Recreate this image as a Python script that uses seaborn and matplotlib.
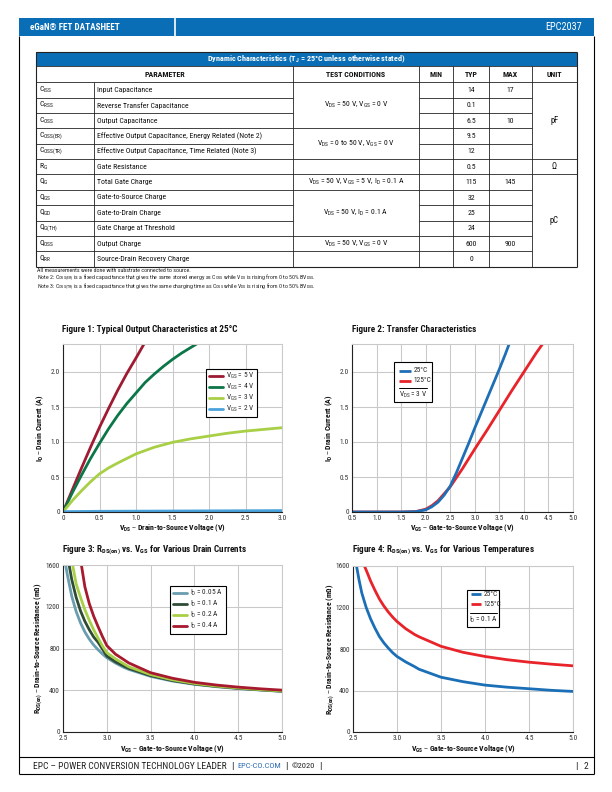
import matplotlib
matplotlib.use("Agg")
import numpy as np
import pandas as pd
import seaborn as sns
import matplotlib.pyplot as plt
from matplotlib import font_manager as fm
from matplotlib.patches import Rectangle
from matplotlib.lines import Line2D

# ---------------- table data ----------------
tbl_symbols = ["C$_{ISS}$", "C$_{RSS}$", "C$_{OSS}$", "C$_{OSS(ER)}$", "C$_{OSS(TR)}$", "R$_{G}$",
               "Q$_{G}$", "Q$_{GS}$", "Q$_{GD}$", "Q$_{G(TH)}$", "Q$_{OSS}$", "Q$_{RR}$"]
tbl_params = ["Input Capacitance", "Reverse Transfer Capacitance", "Output Capacitance",
              "Effective Output Capacitance, Energy Related (Note 2)",
              "Effective Output Capacitance, Time Related (Note 3)", "Gate Resistance",
              "Total Gate Charge", "Gate-to-Source Charge", "Gate-to-Drain Charge",
              "Gate Charge at Threshold", "Output Charge", "Source-Drain Recovery Charge"]
tbl_typ = ["14", "0.1", "6.5", "9.5", "12", "0.5", "115", "32", "25", "24", "600", "0"]
tbl_max = ["17", "", "10", "", "", "", "145", "", "", "", "900", ""]
tbl_cond_groups = [(0, 3, "V$_{DS}$ = 50 V, V$_{GS}$ = 0 V"),
                   (3, 5, "V$_{DS}$ = 0 to 50 V, V$_{GS}$ = 0 V"),
                   (5, 6, ""),
                   (6, 7, "V$_{DS}$ = 50 V, V$_{GS}$ = 5 V, I$_{D}$ = 0.1 A"),
                   (7, 10, "V$_{DS}$ = 50 V, I$_{D}$ = 0.1 A"),
                   (10, 11, "V$_{DS}$ = 50 V, V$_{GS}$ = 0 V"),
                   (11, 12, "")]
tbl_unit_groups = [(0, 5, "pF"), (5, 6, "Ω"), (6, 12, "pC")]
tbl_headers = ["PARAMETER", "TEST CONDITIONS", "MIN", "TYP", "MAX", "UNIT"]

# ---------------- Figure 1 data ----------------
f1_vds_5 = [0, 0.125, 0.25, 0.375, 0.5, 0.625, 0.75, 0.875, 1.0, 1.11]
f1_id_5 = [0, 0.31, 0.62, 0.92, 1.21, 1.48, 1.74, 1.98, 2.2, 2.4]
f1_vds_4 = [0, 0.125, 0.25, 0.375, 0.5, 0.625, 0.75, 0.875, 1.0, 1.125, 1.25, 1.375, 1.5, 1.625,
            1.75, 1.83]
f1_id_4 = [0, 0.27, 0.52, 0.76, 0.98, 1.19, 1.38, 1.55, 1.70, 1.85, 1.97, 2.08, 2.18, 2.27,
           2.35, 2.4]
f1_vds_3 = [0, 0.125, 0.25, 0.375, 0.5, 0.625, 0.75, 1.0, 1.25, 1.5, 1.75, 2.0, 2.25, 2.5, 2.75, 3.0]
f1_id_3 = [0, 0.16, 0.30, 0.43, 0.545, 0.63, 0.70, 0.83, 0.925, 0.995, 1.045, 1.085, 1.125, 1.156, 1.18, 1.204]
f1_vds_2 = [0, 0.5, 1.0, 1.5, 2.0, 2.5, 3.0]
f1_id_2 = [0.005, 0.01, 0.012, 0.014, 0.016, 0.018, 0.02]

# ---------------- Figure 2 data ----------------
f2_vgs_25 = [0.5, 1.0, 1.5, 1.8, 2.0, 2.125, 2.25, 2.375, 2.5, 2.625, 2.75, 2.875, 3.0,
             3.125, 3.25, 3.375, 3.5, 3.625, 3.7]
f2_id_25 = [0.0, 0.0, 0.0, 0.005, 0.03, 0.075, 0.14, 0.24, 0.37, 0.56, 0.77, 0.98, 1.2,
            1.41, 1.62, 1.83, 2.04, 2.26, 2.4]
f2_vgs_125 = [0.5, 1.0, 1.5, 1.8, 2.0, 2.125, 2.25, 2.375, 2.5, 2.625, 2.75, 2.875, 3.0,
              3.25, 3.5, 3.75, 4.0, 4.25, 4.38]
f2_id_125 = [0.0, 0.0, 0.0, 0.006, 0.04, 0.09, 0.16, 0.26, 0.36, 0.49, 0.62, 0.76, 0.9,
             1.17, 1.45, 1.73, 2.0, 2.27, 2.4]

# ---------------- Figure 3 data ----------------
f3_vgs_005 = [2.53, 2.55, 2.6, 2.65, 2.7, 2.75, 2.8, 2.85, 2.9, 2.95, 3.0, 3.1, 3.2, 3.25, 3.5, 3.75,
              4.0, 4.25, 4.5, 4.75, 5.0]
f3_r_005 = [1600, 1505, 1300, 1155, 1045, 958, 890, 834, 788, 748, 712, 660, 617, 600, 533, 488,
            457, 434, 416, 402, 389]
f3_vgs_01 = [2.57, 2.6, 2.65, 2.7, 2.75, 2.8, 2.85, 2.9, 2.95, 3.0, 3.1, 3.2, 3.25, 3.5, 3.75,
             4.0, 4.25, 4.5, 4.75, 5.0]
f3_r_01 = [1600, 1460, 1290, 1160, 1060, 980, 910, 860, 795, 728, 672, 630, 610, 540, 493,
           460, 437, 419, 404, 391]
f3_vgs_02 = [2.61, 2.65, 2.7, 2.75, 2.8, 2.85, 2.9, 2.95, 3.0, 3.1, 3.2, 3.25, 3.5, 3.75,
             4.0, 4.25, 4.5, 4.75, 5.0]
f3_r_02 = [1600, 1420, 1290, 1170, 1070, 980, 900, 825, 760, 700, 650, 625, 550, 500,
           465, 440, 422, 406, 393]
f3_vgs_04 = [2.71, 2.75, 2.8, 2.85, 2.9, 2.95, 3.0, 3.1, 3.2, 3.25, 3.5, 3.75, 4.0, 4.25, 4.5, 4.75, 5.0]
f3_r_04 = [1600, 1390, 1230, 1110, 1010, 915, 828, 745, 690, 662, 568, 515, 476, 450, 430, 414, 401]

# ---------------- Figure 4 data ----------------
f4_vgs_25 = [2.54, 2.57, 2.6, 2.65, 2.7, 2.75, 2.8, 2.85, 2.9, 2.95, 3.0, 3.1, 3.2, 3.25, 3.5, 3.75,
             4.0, 4.25, 4.5, 4.75, 5.0]
f4_r_25 = [1600, 1460, 1340, 1200, 1090, 1000, 920, 860, 810, 765, 728, 675, 630, 605, 528, 485,
           452, 432, 417, 402, 391]
f4_vgs_125 = [2.63, 2.66, 2.7, 2.75, 2.8, 2.85, 2.9, 2.95, 3.0, 3.1, 3.2, 3.25, 3.5, 3.75,
              4.0, 4.25, 4.5, 4.75, 5.0]
f4_r_125 = [1600, 1540, 1455, 1365, 1282, 1215, 1158, 1108, 1065, 995, 940, 918, 826, 768,
            728, 697, 673, 654, 638]

# ---------------- fonts ----------------
names = {f.name for f in fm.fontManager.ttflist}
FONT, STRETCH, S = "Liberation Sans", "normal", 0.84
for cand in ["Liberation Sans Narrow", "Roboto Condensed", "Open Sans Condensed", "Noto Sans Condensed"]:
    if cand in names:
        FONT, S = cand, 1.0
        break
else:
    if any(f.name == "DejaVu Sans" and f.stretch == "condensed" for f in fm.fontManager.ttflist):
        FONT, STRETCH, S = "DejaVu Sans", "condensed", 0.9

sns.set_style("white")
plt.rcParams["font.family"] = [FONT, "DejaVu Sans"]
plt.rcParams["font.stretch"] = STRETCH
plt.rcParams["mathtext.default"] = "regular"

W, H = 612, 792
fig = plt.figure(figsize=(W / 100, H / 100), dpi=100)
bg = fig.add_axes([0, 0, 1, 1], zorder=0)
bg.set_xlim(0, W)
bg.set_ylim(H, 0)
bg.axis("off")
renderer = fig.canvas.get_renderer()

BLUE = "#0A6EB6"


def T(x, y, s, size, **kw):
    kw.setdefault("va", "center")
    return bg.text(x, y, s, fontsize=size * S, **kw)


def L(x0, x1, y0, y1, lw=0.6, color="#222222"):
    bg.plot([x0, x1], [y0, y1], color=color, lw=lw, solid_capstyle="butt")


def seq(x, y, pieces):
    for s, color, gap, size in pieces:
        t = T(x, y, s, size, color=color)
        x = t.get_window_extent(renderer=renderer).x1 + gap


# ---------------- header / page frame / footer ----------------
bg.add_patch(Rectangle((19, 18), 575, 17.5, color=BLUE, lw=0))
L(175, 175, 18, 35.5, lw=1.2, color="white")
T(30, 27, "eGaN® FET DATASHEET", 6.6, color="white", fontweight="bold")
T(582, 27, "EPC2037", 7.4, color="white", ha="right")
L(19, 19, 35.5, 774, lw=0.8, color="black")
L(594, 594, 35.5, 774, lw=0.8, color="black")
L(19, 594, 757, 757, lw=0.8, color="black")
L(19, 594, 774, 774, lw=0.8, color="black")
fy = 766.5
seq(33, fy, [("EPC – POWER CONVERSION TECHNOLOGY LEADER", "#222222", 4, 6.8),
             ("|", "#222222", 4, 6.8), ("EPC-CO.COM", "#2E6DB4", 4, 6.0), ("|", "#222222", 4, 6.8),
             ("©2020", "#222222", 4, 6.0), ("|", "#222222", 4, 6.8)])
T(576, fy, "|", 6.8, color="#222222", ha="center")
T(586, fy, "2", 6.8, color="#222222", ha="center")

# ---------------- table ----------------
cols = [36, 94, 293, 419, 453, 489, 532, 577]
t_top, t_hdr, t_row0, rh, nrows = 52, 66, 82.3, 15.36, 12
t_bot = t_row0 + rh * nrows
bg.add_patch(Rectangle((cols[0], t_top), cols[-1] - cols[0], t_hdr - t_top, color=BLUE, lw=0))
T(306, 59.3, "Dynamic Characteristics (T$_{J}$ = 25°C unless otherwise stated)", 5.9,
  color="white", fontweight="bold", ha="center")
L(cols[0], cols[-1], t_top, t_top, lw=0.8)
L(cols[0], cols[-1], t_hdr, t_hdr)
L(cols[0], cols[-1], t_row0, t_row0)
L(cols[0], cols[-1], t_bot, t_bot, lw=0.8)
L(cols[0], cols[0], t_top, t_bot, lw=0.8)
L(cols[-1], cols[-1], t_top, t_bot, lw=0.8)
for i, c in enumerate(cols[1:-1], start=1):
    L(c, c, t_hdr if i != 1 else t_row0, t_bot)
hdr_x = [(cols[0] + cols[2]) / 2, (cols[2] + cols[3]) / 2, (cols[3] + cols[4]) / 2,
         (cols[4] + cols[5]) / 2, (cols[5] + cols[6]) / 2, (cols[6] + cols[7]) / 2]
for hx, h in zip(hdr_x, tbl_headers):
    T(hx, (t_hdr + t_row0) / 2, h, 5.7, fontweight="bold", ha="center", color="#111111")
cond_bounds = {g[0] for g in tbl_cond_groups}
unit_bounds = {g[0] for g in tbl_unit_groups}
for k in range(1, nrows):
    y = t_row0 + rh * k
    L(cols[0], cols[2], y, y)
    L(cols[3], cols[6], y, y)
    if k in cond_bounds:
        L(cols[2], cols[3], y, y)
    if k in unit_bounds:
        L(cols[6], cols[7], y, y)
for i in range(nrows):
    yc = t_row0 + rh * (i + 0.5)
    T(cols[0] + 3, yc, tbl_symbols[i], 5.6, color="#111111")
    T(cols[1] + 3, yc, tbl_params[i], 5.6, color="#111111")
    T((cols[4] + cols[5]) / 2, yc, tbl_typ[i], 5.6, ha="center", color="#111111")
    if tbl_max[i]:
        T((cols[5] + cols[6]) / 2, yc, tbl_max[i], 5.6, ha="center", color="#111111")
for a, b, s in tbl_cond_groups:
    if s:
        T((cols[2] + cols[3]) / 2, t_row0 + rh * (a + b) / 2, s, 5.6, ha="center", color="#111111")
for a, b, s in tbl_unit_groups:
    T((cols[6] + cols[7]) / 2, t_row0 + rh * (a + b) / 2, s, 6.2, ha="center", color="#111111")

T(37, 270.8, "All measurements were done with substrate connected to source.", 4.3, color="#222222")
T(37, 278.0, "Note 2: C$_{OSS(ER)}$ is a fixed capacitance that gives the same stored energy as C$_{OSS}$ "
  "while V$_{DS}$ is rising from 0 to 50% BV$_{DSS}$.", 4.2, color="#222222")
T(37, 287.4, "Note 3: C$_{OSS(TR)}$ is a fixed capacitance that gives the same charging time as C$_{OSS}$ "
  "while V$_{DS}$ is rising from 0 to 50% BV$_{DSS}$.", 4.2, color="#222222")

# ---------------- charts ----------------
def px_axes(x0, y0, x1, y1):
    return fig.add_axes([x0 / W, 1 - y1 / H, (x1 - x0) / W, (y1 - y0) / H], zorder=2)


def style(ax, xlim, ylim, xticks, xtl, yticks, ytl, xlabel, ylabel, ylx, xly):
    ax.set_xlim(xlim)
    ax.set_ylim(ylim)
    ax.set_xticks(xticks)
    ax.set_xticklabels(xtl)
    ax.set_yticks(yticks)
    ax.set_yticklabels(ytl)
    ax.grid(True, color="#c9c9c9", lw=0.75)
    ax.set_axisbelow(True)
    ax.tick_params(length=0, labelsize=5.3 * S, pad=2.2, colors="#333333")
    for s in ["top", "right"]:
        ax.spines[s].set_color("#c9c9c9")
        ax.spines[s].set_linewidth(0.75)
    for s in ["left", "bottom"]:
        ax.spines[s].set_color("#222222")
        ax.spines[s].set_linewidth(0.8)
    ax.set_xlabel(xlabel, fontsize=5.6 * S, fontweight="bold", color="#111111")
    ax.set_ylabel(ylabel, fontsize=5.6 * S, fontweight="bold", color="#111111")
    ax.xaxis.set_label_coords(0.5, xly)
    ax.yaxis.set_label_coords(ylx, 0.5)


def line(ax, x, y, color, lw=2.0):
    df = pd.DataFrame({"x": x, "y": y})
    sns.lineplot(data=df, x="x", y="y", ax=ax, color=color, lw=lw, legend=False,
                 estimator=None, sort=False)
    ln = ax.get_lines()[-1]
    ln.set_solid_joinstyle("round")
    return ln


def manual_legend(ax, box, entries, sep, note):
    x0, x1, y0, y1 = box
    ax.add_patch(Rectangle((x0, y0), x1 - x0, y1 - y0, transform=ax.transAxes,
                           facecolor="white", edgecolor="black", lw=0.8, zorder=5))
    for (lx0, lx1, ly, tx, label, color) in entries:
        ax.add_line(Line2D([lx0, lx1], [ly, ly], transform=ax.transAxes, color=color, lw=2.0,
                           zorder=6, solid_capstyle="butt"))
        ax.text(tx, ly, label, transform=ax.transAxes, fontsize=5.3 * S, va="center", zorder=6,
                color="#222222")
    sx0, sx1, sy = sep
    ax.add_line(Line2D([sx0, sx1], [sy, sy], transform=ax.transAxes, color="black", lw=0.7, zorder=6))
    nx, ny, ntext = note
    ax.text(nx, ny, ntext, transform=ax.transAxes, fontsize=5.3 * S, va="center", ha="center",
            zorder=6, color="#222222")


def legend(ax, handles, labels, anchor):
    lg = ax.legend(handles, labels, loc="upper left", bbox_to_anchor=anchor, fontsize=5.3 * S,
                   frameon=True, fancybox=False, edgecolor="black", framealpha=1,
                   handlelength=1.9, handletextpad=0.5, borderpad=0.35, labelspacing=0.1,
                   borderaxespad=0)
    lg.get_frame().set_linewidth(0.8)
    return lg


TITLE = 6.6

# Figure 1
T(62, 330, "Figure 1: Typical Output Characteristics at 25°C", TITLE, fontweight="bold", color="#111111")
ax1 = px_axes(63, 344, 282, 512)
h5 = line(ax1, f1_vds_5, f1_id_5, "#9E1B32")
h4 = line(ax1, f1_vds_4, f1_id_4, "#0B7647")
h3 = line(ax1, f1_vds_3, f1_id_3, "#A9CF46")
h2 = line(ax1, f1_vds_2, f1_id_2, "#4AA3DC")
style(ax1, (0, 3.0), (0, 2.4), [0, 0.5, 1, 1.5, 2, 2.5, 3],
      ["0", "0.5", "1.0", "1.5", "2.0", "2.5", "3.0"],
      [0, 0.5, 1, 1.5, 2], ["0", "0.5", "1.0", "1.5", "2.0"],
      "V$_{DS}$ – Drain-to-Source Voltage (V)", "I$_{D}$ – Drain Current (A)", -0.078, -0.065)
legend(ax1, [h5, h4, h3, h2], ["V$_{GS}$ = 5 V", "V$_{GS}$ = 4 V", "V$_{GS}$ = 3 V", "V$_{GS}$ = 2 V"],
       (0.653, 0.853))

# Figure 2
T(352, 330, "Figure 2: Transfer Characteristics", TITLE, fontweight="bold", color="#111111")
ax2 = px_axes(352, 344, 573, 512)
line(ax2, f2_vgs_125, f2_id_125, "#E8232A")
line(ax2, f2_vgs_25, f2_id_25, "#1F6FB6")
style(ax2, (0.5, 5.0), (0, 2.4), [0.5, 1, 1.5, 2, 2.5, 3, 3.5, 4, 4.5, 5],
      ["0.5", "1.0", "1.5", "2.0", "2.5", "3.0", "3.5", "4.0", "4.5", "5.0"],
      [0, 0.5, 1, 1.5, 2], ["0", "0.5", "1.0", "1.5", "2.0"],
      "V$_{GS}$ – Gate-to-Source Voltage (V)", "I$_{D}$ – Drain Current (A)", -0.077, -0.065)
manual_legend(ax2, (0.19, 0.36, 0.655, 0.89),
              [(0.213, 0.266, 0.841, 0.278, "25°C", "#1F6FB6"),
               (0.213, 0.266, 0.782, 0.278, "125°C", "#E8232A")],
              (0.213, 0.339, 0.736), (0.276, 0.70, "V$_{DS}$ = 3 V"))

# Figure 3
T(62, 550, "Figure 3: R$_{DS(on)}$ vs. V$_{GS}$ for Various Drain Currents", TITLE, fontweight="bold",
  color="#111111")
ax3 = px_axes(63, 565, 282, 732)
g1 = line(ax3, f3_vgs_005, f3_r_005, "#6A9DB0")
g2 = line(ax3, f3_vgs_01, f3_r_01, "#2F4B35")
g3 = line(ax3, f3_vgs_02, f3_r_02, "#A9CF46")
g4 = line(ax3, f3_vgs_04, f3_r_04, "#A6192E")
style(ax3, (2.5, 5.0), (0, 1600), [2.5, 3, 3.5, 4, 4.5, 5],
      ["2.5", "3.0", "3.5", "4.0", "4.5", "5.0"],
      [0, 400, 800, 1200, 1600], ["0", "400", "800", "1200", "1600"],
      "V$_{GS}$ – Gate-to-Source Voltage (V)",
      "R$_{DS(on)}$ – Drain-to-Source Resistance (mΩ)", -0.082, -0.072)
legend(ax3, [g1, g2, g3, g4], ["I$_{D}$ = 0.05 A", "I$_{D}$ = 0.1 A", "I$_{D}$ = 0.2 A", "I$_{D}$ = 0.4 A"],
       (0.489, 0.876))

# Figure 4
T(352, 550, "Figure 4: R$_{DS(on)}$ vs. V$_{GS}$ for Various Temperatures", TITLE, fontweight="bold",
  color="#111111")
ax4 = px_axes(353, 566, 573, 732)
line(ax4, f4_vgs_25, f4_r_25, "#1A6FB6")
line(ax4, f4_vgs_125, f4_r_125, "#E8232A")
style(ax4, (2.5, 5.0), (0, 1600), [2.5, 3, 3.5, 4, 4.5, 5],
      ["2.5", "3.0", "3.5", "4.0", "4.5", "5.0"],
      [0, 400, 800, 1200, 1600], ["0", "400", "800", "1200", "1600"],
      "V$_{GS}$ – Gate-to-Source Voltage (V)",
      "R$_{DS(on)}$ – Drain-to-Source Resistance (mΩ)", -0.073, -0.072)
manual_legend(ax4, (0.517, 0.664, 0.631, 0.855),
              [(0.535, 0.582, 0.829, 0.592, "25°C", "#1A6FB6"),
               (0.535, 0.582, 0.769, 0.592, "125°C", "#E8232A")],
              (0.532, 0.653, 0.719), (0.592, 0.675, "I$_{D}$ = 0.1 A"))

fig.savefig("out.png", dpi=100)
